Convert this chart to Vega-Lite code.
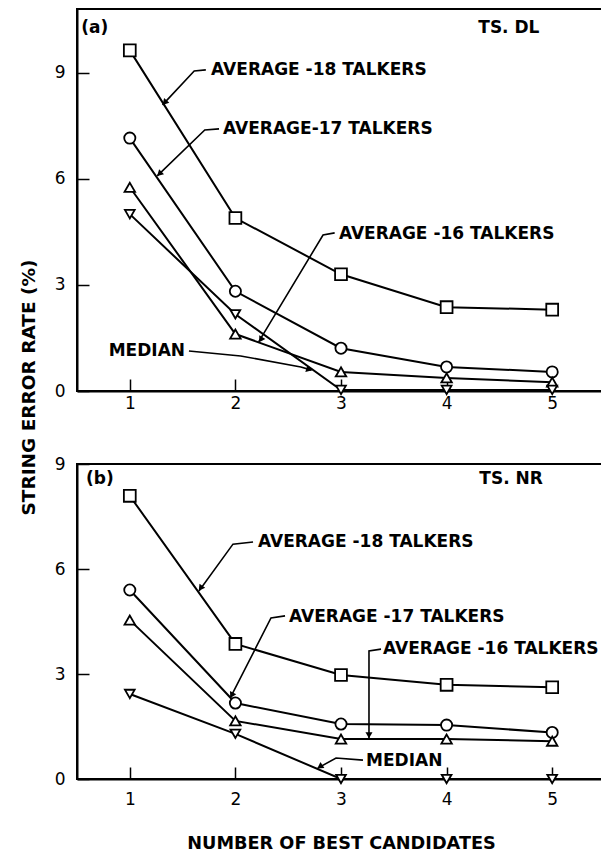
{
  "$schema": "https://vega.github.io/schema/vega-lite/v6.json",
  "background": "white",
  "padding": {"left": 18, "top": 8, "right": 0, "bottom": 0},
  "bounds": "flush",
  "spacing": 73,
  "config": {
    "view": {"stroke": "black", "strokeWidth": 2},
    "axis": {
      "domainColor": "black", "domainWidth": 2,
      "tickColor": "black", "tickWidth": 1.5, "tickSize": -12,
      "grid": false,
      "labelFont": "DejaVu Sans", "labelFontSize": 17, "labelColor": "black",
      "titleFont": "DejaVu Sans", "titleFontWeight": "bold", "titleColor": "black"
    },
    "text": {"font": "DejaVu Sans", "fontWeight": "bold", "fontSize": 17, "color": "black"}
  },
  "datasets": {
    "curves": [
      {"panel": "a", "series": "18", "x": 1, "y": 9.63},
      {"panel": "a", "series": "18", "x": 2, "y": 4.89},
      {"panel": "a", "series": "18", "x": 3, "y": 3.30},
      {"panel": "a", "series": "18", "x": 4, "y": 2.37},
      {"panel": "a", "series": "18", "x": 5, "y": 2.30},
      {"panel": "a", "series": "17", "x": 1, "y": 7.15},
      {"panel": "a", "series": "17", "x": 2, "y": 2.82},
      {"panel": "a", "series": "17", "x": 3, "y": 1.21},
      {"panel": "a", "series": "17", "x": 4, "y": 0.68},
      {"panel": "a", "series": "17", "x": 5, "y": 0.54},
      {"panel": "a", "series": "16", "x": 1, "y": 5.76},
      {"panel": "a", "series": "16", "x": 2, "y": 1.61},
      {"panel": "a", "series": "16", "x": 3, "y": 0.54},
      {"panel": "a", "series": "16", "x": 4, "y": 0.37},
      {"panel": "a", "series": "16", "x": 5, "y": 0.25},
      {"panel": "a", "series": "median", "x": 1, "y": 5.00},
      {"panel": "a", "series": "median", "x": 2, "y": 2.17},
      {"panel": "a", "series": "median", "x": 3, "y": 0.03},
      {"panel": "a", "series": "median", "x": 4, "y": 0.03},
      {"panel": "a", "series": "median", "x": 5, "y": 0.03},
      {"panel": "b", "series": "18", "x": 1, "y": 8.09},
      {"panel": "b", "series": "18", "x": 2, "y": 3.86},
      {"panel": "b", "series": "18", "x": 3, "y": 2.97},
      {"panel": "b", "series": "18", "x": 4, "y": 2.69},
      {"panel": "b", "series": "18", "x": 5, "y": 2.62},
      {"panel": "b", "series": "17", "x": 1, "y": 5.40},
      {"panel": "b", "series": "17", "x": 2, "y": 2.17},
      {"panel": "b", "series": "17", "x": 3, "y": 1.57},
      {"panel": "b", "series": "17", "x": 4, "y": 1.54},
      {"panel": "b", "series": "17", "x": 5, "y": 1.33},
      {"panel": "b", "series": "16", "x": 1, "y": 4.54},
      {"panel": "b", "series": "16", "x": 2, "y": 1.66},
      {"panel": "b", "series": "16", "x": 3, "y": 1.14},
      {"panel": "b", "series": "16", "x": 4, "y": 1.14},
      {"panel": "b", "series": "16", "x": 5, "y": 1.08},
      {"panel": "b", "series": "median", "x": 1, "y": 2.43},
      {"panel": "b", "series": "median", "x": 2, "y": 1.29},
      {"panel": "b", "series": "median", "x": 3, "y": 0.0},
      {"panel": "b", "series": "median", "x": 4, "y": 0.0},
      {"panel": "b", "series": "median", "x": 5, "y": 0.0}
    ],
    "leaders": [
      {"panel": "a", "id": "a18", "seq": 1, "x": 1.72, "y": 9.08},
      {"panel": "a", "id": "a18", "seq": 2, "x": 1.61, "y": 9.05},
      {"panel": "a", "id": "a18", "seq": 3, "x": 1.31, "y": 8.09},
      {"panel": "a", "id": "a17", "seq": 1, "x": 1.845, "y": 7.41},
      {"panel": "a", "id": "a17", "seq": 2, "x": 1.71, "y": 7.38},
      {"panel": "a", "id": "a17", "seq": 3, "x": 1.26, "y": 6.08},
      {"panel": "a", "id": "a16", "seq": 1, "x": 2.94, "y": 4.47},
      {"panel": "a", "id": "a16", "seq": 2, "x": 2.83, "y": 4.41},
      {"panel": "a", "id": "a16", "seq": 3, "x": 2.22, "y": 1.39},
      {"panel": "a", "id": "aM", "seq": 1, "x": 1.56, "y": 1.13},
      {"panel": "a", "id": "aM", "seq": 2, "x": 2.05, "y": 0.99},
      {"panel": "a", "id": "aM", "seq": 3, "x": 2.62, "y": 0.68},
      {"panel": "a", "id": "aM", "seq": 4, "x": 2.72, "y": 0.59},
      {"panel": "b", "id": "b18", "seq": 1, "x": 2.167, "y": 6.77},
      {"panel": "b", "id": "b18", "seq": 2, "x": 1.977, "y": 6.71},
      {"panel": "b", "id": "b18", "seq": 3, "x": 1.655, "y": 5.37},
      {"panel": "b", "id": "b17", "seq": 1, "x": 2.47, "y": 4.66},
      {"panel": "b", "id": "b17", "seq": 2, "x": 2.337, "y": 4.6},
      {"panel": "b", "id": "b17", "seq": 3, "x": 1.95, "y": 2.31},
      {"panel": "b", "id": "b16", "seq": 1, "x": 3.379, "y": 3.71},
      {"panel": "b", "id": "b16", "seq": 2, "x": 3.265, "y": 3.66},
      {"panel": "b", "id": "b16", "seq": 3, "x": 3.265, "y": 1.17},
      {"panel": "b", "id": "bM", "seq": 1, "x": 3.208, "y": 0.54},
      {"panel": "b", "id": "bM", "seq": 2, "x": 2.953, "y": 0.6},
      {"panel": "b", "id": "bM", "seq": 3, "x": 2.78, "y": 0.31}
    ],
    "arrows": [
      {"panel": "a", "x": 1.33, "y": 8.15, "angle": 222},
      {"panel": "a", "x": 1.28, "y": 6.14, "angle": 226},
      {"panel": "a", "x": 2.24, "y": 1.45, "angle": 211},
      {"panel": "a", "x": 2.70, "y": 0.61, "angle": 107},
      {"panel": "b", "x": 1.67, "y": 5.45, "angle": 216},
      {"panel": "b", "x": 1.965, "y": 2.39, "angle": 207},
      {"panel": "b", "x": 3.265, "y": 1.25, "angle": 180},
      {"panel": "b", "x": 2.80, "y": 0.35, "angle": 236}
    ],
    "labels": [
      {"panel": "a", "text": "(a)", "x": 0.54, "y": 10.25},
      {"panel": "a", "text": "TS. DL", "x": 4.30, "y": 10.25},
      {"panel": "a", "text": "AVERAGE -18 TALKERS", "x": 1.77, "y": 9.08},
      {"panel": "a", "text": "AVERAGE-17 TALKERS", "x": 1.883, "y": 7.41},
      {"panel": "a", "text": "AVERAGE -16 TALKERS", "x": 2.98, "y": 4.44},
      {"panel": "a", "text": "MEDIAN", "x": 0.80, "y": 1.13},
      {"panel": "b", "text": "(b)", "x": 0.585, "y": 8.57},
      {"panel": "b", "text": "TS. NR", "x": 4.31, "y": 8.57},
      {"panel": "b", "text": "AVERAGE -18 TALKERS", "x": 2.214, "y": 6.77},
      {"panel": "b", "text": "AVERAGE -17 TALKERS", "x": 2.508, "y": 4.63},
      {"panel": "b", "text": "AVERAGE -16 TALKERS", "x": 3.398, "y": 3.71},
      {"panel": "b", "text": "MEDIAN", "x": 3.237, "y": 0.51}
    ]
  },
  "vconcat": [
    {
      "width": 528,
      "height": 382,
      "encoding": {
        "x": {"field": "x", "type": "quantitative",
              "scale": {"domain": [0.5, 5.5], "nice": false, "zero": false},
              "axis": {"values": [1, 2, 3, 4, 5], "title": null, "labelPadding": 16}},
        "y": {"field": "y", "type": "quantitative",
              "scale": {"domain": [0, 10.8], "nice": false},
              "axis": {"values": [0, 3, 6, 9], "labelPadding": 24,
                       "title": "STRING ERROR RATE (%)", "titleFontSize": 18.5,
                       "titleAngle": 270, "titleX": -43, "titleY": 378,
                       "titleAlign": "center", "titleBaseline": "alphabetic"}}
      },
      "layer": [
        {
          "data": {"name": "curves"},
          "transform": [{"filter": "datum.panel === 'a'"}],
          "mark": {"type": "line", "color": "black", "strokeWidth": 2},
          "encoding": {"detail": {"field": "series"}, "order": {"field": "x"}}
        },
        {
          "data": {"name": "curves"},
          "transform": [{"filter": "datum.panel === 'a'"}],
          "mark": {"type": "point", "filled": false, "fill": "white", "fillOpacity": 1, "stroke": "black", "strokeWidth": 1.8, "opacity": 1},
          "encoding": {
            "shape": {"field": "series", "scale": {"domain": ["18", "17", "16", "median"], "range": ["square", "circle", "triangle-up", "triangle-down"]}, "legend": null},
            "size": {"field": "series", "scale": {"domain": ["18", "17", "16", "median"], "range": [140, 95, 130, 130]}, "legend": null}
          }
        },
        {
          "data": {"name": "leaders"},
          "transform": [{"filter": "datum.panel === 'a'"}],
          "mark": {"type": "line", "color": "black", "strokeWidth": 1.6},
          "encoding": {"detail": {"field": "id"}, "order": {"field": "seq"}}
        },
        {
          "data": {"name": "arrows"},
          "transform": [{"filter": "datum.panel === 'a'"}],
          "mark": {"type": "point", "shape": "triangle-up", "filled": true, "color": "black", "opacity": 1, "size": 50},
          "encoding": {"angle": {"field": "angle", "type": "quantitative", "scale": null}}
        },
        {
          "data": {"name": "labels"},
          "transform": [{"filter": "datum.panel === 'a'"}],
          "mark": {"type": "text", "align": "left", "baseline": "middle"},
          "encoding": {"text": {"field": "text"}}
        }
      ]
    },
    {
      "width": 528,
      "height": 315,
      "encoding": {
        "x": {"field": "x", "type": "quantitative",
              "scale": {"domain": [0.5, 5.5], "nice": false, "zero": false},
              "axis": {"values": [1, 2, 3, 4, 5], "labelPadding": 24,
                       "title": "NUMBER OF BEST CANDIDATES", "titleFontSize": 17.7,
                       "titleY": 69, "titleBaseline": "alphabetic"}},
        "y": {"field": "y", "type": "quantitative",
              "scale": {"domain": [0, 9], "nice": false},
              "axis": {"values": [0, 3, 6, 9], "labelPadding": 24, "title": null}}
      },
      "layer": [
        {
          "data": {"name": "curves"},
          "transform": [{"filter": "datum.panel === 'b'"}],
          "mark": {"type": "line", "color": "black", "strokeWidth": 2},
          "encoding": {"detail": {"field": "series"}, "order": {"field": "x"}}
        },
        {
          "data": {"name": "curves"},
          "transform": [{"filter": "datum.panel === 'b'"}],
          "mark": {"type": "point", "filled": false, "fill": "white", "fillOpacity": 1, "stroke": "black", "strokeWidth": 1.8, "opacity": 1},
          "encoding": {
            "shape": {"field": "series", "scale": {"domain": ["18", "17", "16", "median"], "range": ["square", "circle", "triangle-up", "triangle-down"]}, "legend": null},
            "size": {"field": "series", "scale": {"domain": ["18", "17", "16", "median"], "range": [140, 95, 130, 130]}, "legend": null}
          }
        },
        {
          "data": {"name": "leaders"},
          "transform": [{"filter": "datum.panel === 'b'"}],
          "mark": {"type": "line", "color": "black", "strokeWidth": 1.6},
          "encoding": {"detail": {"field": "id"}, "order": {"field": "seq"}}
        },
        {
          "data": {"name": "arrows"},
          "transform": [{"filter": "datum.panel === 'b'"}],
          "mark": {"type": "point", "shape": "triangle-up", "filled": true, "color": "black", "opacity": 1, "size": 50},
          "encoding": {"angle": {"field": "angle", "type": "quantitative", "scale": null}}
        },
        {
          "data": {"name": "labels"},
          "transform": [{"filter": "datum.panel === 'b'"}],
          "mark": {"type": "text", "align": "left", "baseline": "middle"},
          "encoding": {"text": {"field": "text"}}
        }
      ]
    }
  ]
}
